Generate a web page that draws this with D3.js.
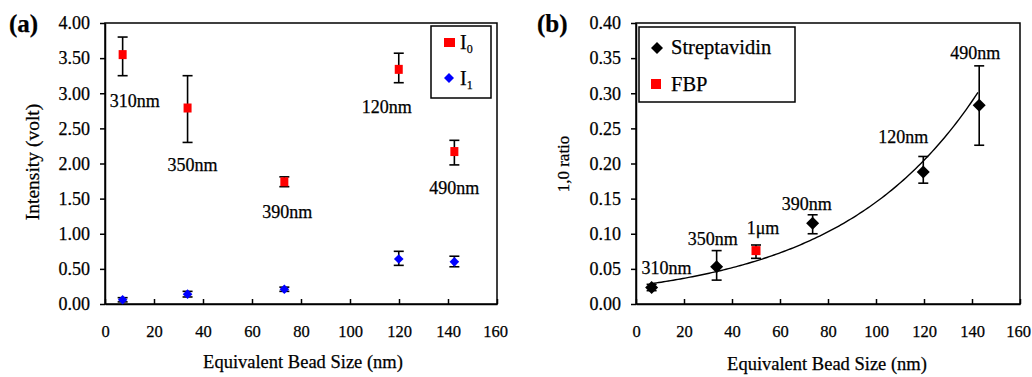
<!DOCTYPE html>
<head>
<meta charset="utf-8">
<style>
body, html {
  margin: 0;
  background: #fff;
}
svg text {
  font-family: "Liberation Serif", serif;
  fill: #000;
  stroke: #000;
  stroke-width: 0.25px;
}
.axis path, .axis line {
  stroke: #000;
  stroke-width: 1.5px;
}
.axis text {
  font-family: "Liberation Serif", serif;
  font-size: 18px;
}
.axis.xaxis text {
  font-size: 16.5px;
}
.frame {
  fill: none;
  stroke: #000;
  stroke-width: 1.5px;
}
.err {
  stroke: #000;
  stroke-width: 1.6px;
}
.lbl {
  font-size: 18px;
  text-anchor: middle;
}
</style>
<script src="https://d3js.org/d3.v7.min.js"></script>
</head>
<body>
<div id="chart"></div>
<script>

// ---- data ----
var xTicks = [0, 20, 40, 60, 80, 100, 120, 140, 160];

// panel (a): intensities
var beadSizeA = [7.2, 33.7, 73.2, 119.9, 142.6];
var beadNameA = ["310nm", "350nm", "390nm", "120nm", "490nm"];
var i0Val = [3.55, 2.79, 1.74, 3.34, 2.17];
var i0Lo  = [3.25, 2.30, 1.67, 3.15, 1.98];
var i0Hi  = [3.80, 3.25, 1.81, 3.57, 2.33];
var i1Val = [0.06, 0.14, 0.21, 0.64, 0.60];
var i1Lo  = [0.03, 0.10, 0.18, 0.55, 0.53];
var i1Hi  = [0.09, 0.18, 0.24, 0.75, 0.68];
var yTicksA = [0, 0.5, 1, 1.5, 2, 2.5, 3, 3.5, 4];

// panel (b): ratio
var beadSizeB = [6.5, 33.6, 73.6, 119.7, 143.0];
var beadNameB = ["310nm", "350nm", "390nm", "120nm", "490nm"];
var strepVal = [0.0235, 0.053, 0.115, 0.188, 0.283];
var strepLo  = [0.019, 0.034, 0.100, 0.172, 0.226];
var strepHi  = [0.028, 0.076, 0.127, 0.210, 0.339];
var fbpSize = [50.0];
var fbpName = ["1\u03bcm"];
var fbpVal = [0.076];
var fbpLo  = [0.065];
var fbpHi  = [0.084];
var yTicksB = [0, 0.05, 0.1, 0.15, 0.2, 0.25, 0.3, 0.35, 0.4];

// label offsets from the marker (layout, px)
var offA = [[12, 46], [5, 57], [3, 30], [-12, 38], [0, 36]];
var offB = [[15, -19], [-4, -28], [-6, -19], [-20, -35], [-4, -52]];
var offFbp = [[7, -23]];

//==========================================
var svg = d3.select("#chart").append("svg")
    .attr("width", 1032)
    .attr("height", 377);

var plotTop = 23, plotBottom = 304;

function zip(xs, v, lo, hi, names) {
  return xs.map(function(x, i) {
    return {x: x, v: v[i], lo: lo[i], hi: hi[i], name: names ? names[i] : ""};
  });
}

//--------------------------------------
function panel(left, right, yMax, yTicks) {
  var g = svg.append("g");
  var x = d3.scaleLinear().domain([0, 160]).range([left, right]);
  var y = d3.scaleLinear().domain([0, yMax]).range([plotBottom, plotTop]);

  var xa = g.append("g").attr("class", "axis xaxis")
      .attr("transform", "translate(0," + plotBottom + ")")
      .call(d3.axisBottom(x).tickValues(xTicks).tickSize(-5).tickSizeOuter(0).tickPadding(21));
  // keep the last label inside the page
  xa.selectAll(".tick text").filter(function(d) { return d === 160; }).attr("dx", -2);
  g.append("g").attr("class", "axis")
      .attr("transform", "translate(" + left + ",0)")
      .call(d3.axisLeft(y).tickValues(yTicks).tickFormat(d3.format(".2f")).tickSize(5).tickSizeOuter(0).tickPadding(10));
  g.selectAll(".axis").attr("font-family", "Liberation Serif");
  g.append("rect").attr("class", "frame")
      .attr("x", left).attr("y", plotTop)
      .attr("width", right - left).attr("height", plotBottom - plotTop);
  return {g: g, x: x, y: y};
}

function errorBars(p, data) {
  var e = p.g.append("g");
  data.forEach(function(d) {
    var cx = p.x(d.x);
    e.append("line").attr("class", "err")
        .attr("x1", cx).attr("x2", cx).attr("y1", p.y(d.lo)).attr("y2", p.y(d.hi));
    [d.lo, d.hi].forEach(function(v) {
      e.append("line").attr("class", "err")
          .attr("x1", cx - 5).attr("x2", cx + 5).attr("y1", p.y(v)).attr("y2", p.y(v));
    });
  });
}

function squares(p, data, color, w, h) {
  p.g.append("g").selectAll("rect").data(data).join("rect")
      .attr("x", function(d) { return p.x(d.x) - w / 2; })
      .attr("y", function(d) { return p.y(d.v) - h / 2; })
      .attr("width", w).attr("height", h)
      .attr("fill", color);
}

function diamonds(p, data, color, r) {
  p.g.append("g").selectAll("path").data(data).join("path")
      .attr("d", "M0," + (-r) + "L" + r + ",0L0," + r + "L" + (-r) + ",0Z")
      .attr("transform", function(d) { return "translate(" + p.x(d.x) + "," + p.y(d.v) + ")"; })
      .attr("fill", color);
}

function labels(p, data, off) {
  p.g.append("g").selectAll("text").data(data).join("text")
      .attr("class", "lbl")
      .attr("x", function(d, i) { return p.x(d.x) + off[i][0]; })
      .attr("y", function(d, i) { return p.y(d.v) + off[i][1] + 6; })
      .text(function(d) { return d.name; });
}

//==========================================
// (a)
var pa = panel(105, 497, 4, yTicksA);
var dI0 = zip(beadSizeA, i0Val, i0Lo, i0Hi, beadNameA);
var dI1 = zip(beadSizeA, i1Val, i1Lo, i1Hi);
errorBars(pa, dI0);
errorBars(pa, dI1);
squares(pa, dI0, "#ff0000", 8, 9);
diamonds(pa, dI1, "#0000ff", 4.8);
labels(pa, dI0, offA);

svg.append("text").attr("x", 9).attr("y", 32)
    .attr("font-size", 25).attr("font-weight", "bold").text("(a)");
svg.append("text").attr("x", 303).attr("y", 368)
    .attr("font-size", 18.5).attr("text-anchor", "middle")
    .text("Equivalent Bead Size (nm)");
svg.append("text").attr("transform", "translate(39,162) rotate(-90)")
    .attr("font-size", 19.5).attr("text-anchor", "middle")
    .text("Intensity (volt)");

// legend (a)
var la = svg.append("g");
la.append("rect").attr("class", "frame").attr("x", 431).attr("y", 26).attr("width", 60).attr("height", 72);
la.append("rect").attr("x", 444).attr("y", 38).attr("width", 11).attr("height", 9).attr("fill", "#ff0000");
la.append("path").attr("d", "M449,73L454,78L449,83L444,78Z").attr("fill", "#0000ff");
var t0 = la.append("text").attr("x", 460).attr("y", 49).attr("font-size", 20);
t0.append("tspan").text("I");
t0.append("tspan").attr("font-size", 12).attr("dy", 4).text("0");
var t1 = la.append("text").attr("x", 460).attr("y", 85).attr("font-size", 20);
t1.append("tspan").text("I");
t1.append("tspan").attr("font-size", 12).attr("dy", 4).text("1");

//==========================================
// (b)
var pb = panel(636, 1020, 0.4, yTicksB);
var dStrep = zip(beadSizeB, strepVal, strepLo, strepHi, beadNameB);
var dFbp = zip(fbpSize, fbpVal, fbpLo, fbpHi, fbpName);

// exponential trendline fitted to the streptavidin points
var lx = beadSizeB, ly = strepVal.map(Math.log);
var mx = d3.mean(lx), my = d3.mean(ly);
var b = d3.sum(lx, function(v, i) { return (v - mx) * (ly[i] - my); }) /
        d3.sum(lx, function(v) { return (v - mx) * (v - mx); });
var a = Math.exp(my - b * mx);
var xs = d3.range(d3.min(beadSizeB), d3.max(beadSizeB) + 0.01, 1);
pb.g.append("path")
    .datum(xs)
    .attr("fill", "none").attr("stroke", "#000").attr("stroke-width", 1.4)
    .attr("d", d3.line()
        .x(function(d) { return pb.x(d); })
        .y(function(d) { return pb.y(a * Math.exp(b * d)); }));

errorBars(pb, dStrep);
errorBars(pb, dFbp);
diamonds(pb, dStrep, "#000", 6.5);
squares(pb, dFbp, "#ff0000", 9, 9);
labels(pb, dStrep, offB);
labels(pb, dFbp, offFbp);

svg.append("text").attr("x", 537).attr("y", 32)
    .attr("font-size", 25).attr("font-weight", "bold").text("(b)");
svg.append("text").attr("x", 827).attr("y", 370)
    .attr("font-size", 18.5).attr("text-anchor", "middle")
    .text("Equivalent Bead Size (nm)");
svg.append("text").attr("transform", "translate(569,164) rotate(-90)")
    .attr("font-size", 17).attr("text-anchor", "middle")
    .text("1,0 ratio");

// legend (b)
var lb = svg.append("g");
lb.append("rect").attr("class", "frame").attr("x", 639).attr("y", 27).attr("width", 156).attr("height", 75);
lb.append("path").attr("d", "M657,42L663,48L657,54L651,48Z").attr("fill", "#000");
lb.append("rect").attr("x", 651).attr("y", 79).attr("width", 10).attr("height", 10).attr("fill", "#ff0000");
lb.append("text").attr("x", 671).attr("y", 54).attr("font-size", 20.5).text("Streptavidin");
lb.append("text").attr("x", 671).attr("y", 91).attr("font-size", 20.5).text("FBP");

</script>
</body>
